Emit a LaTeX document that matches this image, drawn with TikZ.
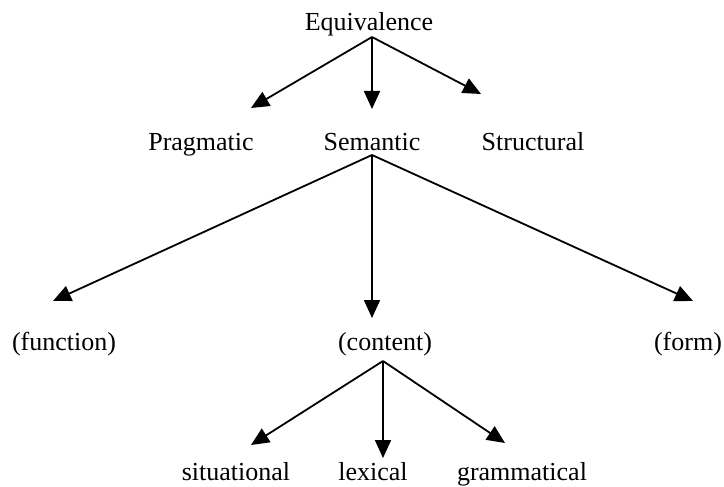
\documentclass[tikz,border=0pt]{standalone}
\usepackage{fontspec}
\setmainfont{Liberation Serif}
\usetikzlibrary{positioning}
\usetikzlibrary{arrows.meta}

\begin{document}
\begin{tikzpicture}[x=1pt, y=-1pt,
  word/.style = {font=\fontsize{26}{30}\selectfont, inner sep=0pt, anchor=base},
  arr/.style = {-{Triangle[length=18pt,width=16pt]}, line width=1.8pt}
]
\useasboundingbox (0,0) rectangle (724,487);
\node[word] (equiv) at (369,31) {Equivalence};
\node[word] (prag) at (201,150) {Pragmatic};
\node[word] (sem) at (372,150) {Semantic};
\node[word] (struct) at (533,150) {Structural};
\node[word] (func) at (64,350) {(function)};
\node[word] (cont) at (385,350) {(content)};
\node[word] (form) at (688,350) {(form)};
\node[word] (sit) at (236,480) {situational};
\node[word] (lex) at (373,480) {lexical};
\node[word] (gram) at (522,480) {grammatical};
% fork points and arrow tips
\coordinate (equiv-fork) at (372,37);
\coordinate (prag-tip) at (251,108);
\coordinate (sem-tip) at (372,109);
\coordinate (struct-tip) at (481,94);
\coordinate (sem-fork) at (372,155);
\coordinate (func-tip) at (53,301);
\coordinate (cont-tip) at (372,318);
\coordinate (form-tip) at (693,301);
\coordinate (cont-fork) at (383,361);
\coordinate (sit-tip) at (251,445);
\coordinate (lex-tip) at (383,458);
\coordinate (gram-tip) at (505,443);
\draw[arr] (equiv-fork) -- (prag-tip);
\draw[arr] (equiv-fork) -- (sem-tip);
\draw[arr] (equiv-fork) -- (struct-tip);
\draw[arr] (sem-fork) -- (func-tip);
\draw[arr] (sem-fork) -- (cont-tip);
\draw[arr] (sem-fork) -- (form-tip);
\draw[arr] (cont-fork) -- (sit-tip);
\draw[arr] (cont-fork) -- (lex-tip);
\draw[arr] (cont-fork) -- (gram-tip);
\end{tikzpicture}
\end{document}
